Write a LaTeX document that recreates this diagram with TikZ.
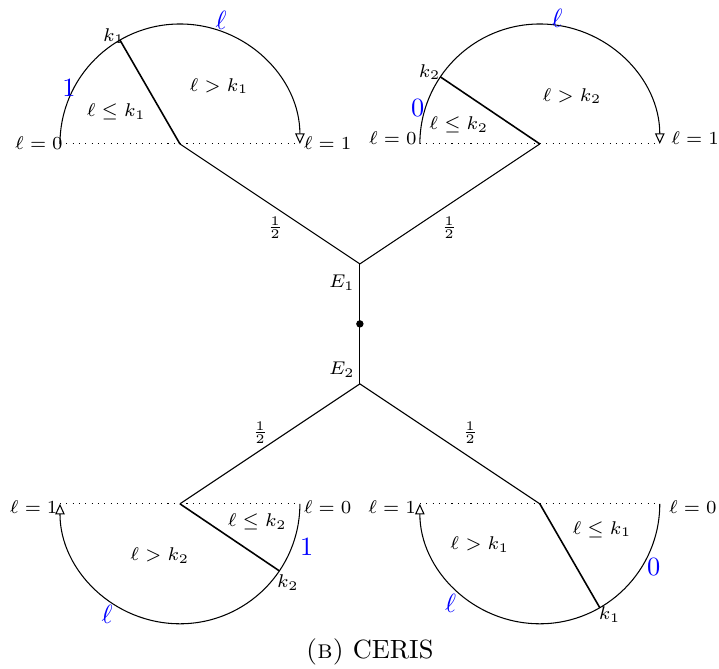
\documentclass[tikz,border=0pt]{standalone}
\usepackage{amsmath}
\usetikzlibrary{arrows.meta, positioning, calc}
\definecolor{valblue}{HTML}{0000FF}
\tikzset{
  edge/.style={thin},
  cut/.style={semithick},
  rim/.style={thin, -{Triangle[open, length=4pt, width=3.6pt]}},
  base/.style={dotted},
  lbl/.style={font=\scriptsize, inner sep=1pt},
  val/.style={font=\normalsize, text=valblue, inner sep=1pt},
  dot/.style={circle, fill=black, inner sep=0pt, minimum size=2.8pt},
}

\begin{document}
\begin{tikzpicture}
  \useasboundingbox (-4.8,-4.6) rectangle (4.79,4.32);

  % centres and junctions
  \coordinate (c1) at (-2.4,2.4);
  \coordinate (c2) at (2.4,2.4);
  \coordinate (c3) at (-2.4,-2.4);
  \coordinate (c4) at (2.4,-2.4);
  \coordinate (e1) at (0,0.8);
  \coordinate (e2) at (0,-0.8);

  % rim end points and cut points
  \coordinate (c1w) at ($(c1)+(180:1.6)$);
  \coordinate (c1e) at ($(c1)+(0:1.6)$);
  \coordinate (k1a) at ($(c1)+(120:1.6)$);
  \coordinate (c2w) at ($(c2)+(180:1.6)$);
  \coordinate (c2e) at ($(c2)+(0:1.6)$);
  \coordinate (k2a) at ($(c2)+(146:1.6)$);
  \coordinate (c3w) at ($(c3)+(180:1.6)$);
  \coordinate (c3e) at ($(c3)+(0:1.6)$);
  \coordinate (k2b) at ($(c3)+(-34:1.6)$);
  \coordinate (c4w) at ($(c4)+(180:1.6)$);
  \coordinate (c4e) at ($(c4)+(0:1.6)$);
  \coordinate (k1b) at ($(c4)+(-60:1.6)$);

  % Middle edge
  \draw[edge] (e1) -- (e2);
  \node[dot] (mid) at (0,0) {};
  \node[lbl] (E1) at (-0.24,0.55) {$E_1$};
  \node[lbl] (E2) at (-0.24,-0.61) {$E_2$};

  % Edges to the discs
  \draw[edge] (c1) -- (e1);
  \draw[edge] (e1) -- (c2);
  \draw[edge] (e2) -- (c3);
  \draw[edge] (e2) -- (c4);
  \node[lbl] (h1) at (-1.13,1.28) {$\frac{1}{2}$};
  \node[lbl] (h2) at (1.19,1.28) {$\frac{1}{2}$};
  \node[lbl] (h3) at (-1.33,-1.45) {$\frac{1}{2}$};
  \node[lbl] (h4) at (1.47,-1.45) {$\frac{1}{2}$};

  % Top-left disc
  \draw[base] (c1w) -- (c1e);
  \draw[rim] (c1w) arc[start angle=180, end angle=0, radius=1.6];
  \draw[cut] (c1) -- (k1a);
  \node[lbl] (zero1) at (-4.28,2.41) {$\ell=0$};
  \node[lbl] (one1) at (-0.43,2.41) {$\ell=1$};
  \node[lbl] (kk1) at (-3.28,3.84) {$k_1$};
  \node[lbl] (le1) at (-3.25,2.83) {$\ell\leq k_1$};
  \node[lbl] (gt1) at (-1.88,3.17) {$\ell>k_1$};
  \node[val] (v1) at (-3.88,3.15) {$1$};
  \node[val] (ell1) at (-1.85,4.05) {$\ell$};

  % Top-right disc
  \draw[base] (c2w) -- (c2e);
  \draw[rim] (c2w) arc[start angle=180, end angle=0, radius=1.6];
  \draw[cut] (c2) -- (k2a);
  \node[lbl] (zero2) at (0.44,2.48) {$\ell=0$};
  \node[lbl] (one2) at (4.47,2.48) {$\ell=1$};
  \node[lbl] (kk2) at (0.93,3.36) {$k_2$};
  \node[lbl] (le2) at (1.32,2.65) {$\ell\leq k_2$};
  \node[lbl] (gt2) at (2.83,3.04) {$\ell>k_2$};
  \node[val] (v2) at (0.77,2.88) {$0$};
  \node[val] (ell2) at (2.63,4.07) {$\ell$};

  % Bottom-left disc
  \draw[base] (c3w) -- (c3e);
  \draw[rim] (c3e) arc[start angle=0, end angle=-180, radius=1.6];
  \draw[cut] (c3) -- (k2b);
  \node[lbl] (one3) at (-4.35,-2.45) {$\ell=1$};
  \node[lbl] (zero3) at (-0.43,-2.45) {$\ell=0$};
  \node[lbl] (kk3) at (-0.96,-3.45) {$k_2$};
  \node[lbl] (le3) at (-1.37,-2.64) {$\ell\leq k_2$};
  \node[lbl] (gt3) at (-2.67,-3.09) {$\ell>k_2$};
  \node[val] (v3) at (-0.71,-2.97) {$1$};
  \node[val] (ell3) at (-3.37,-3.87) {$\ell$};

  % Bottom-right disc
  \draw[base] (c4w) -- (c4e);
  \draw[rim] (c4e) arc[start angle=0, end angle=-180, radius=1.6];
  \draw[cut] (c4) -- (k1b);
  \node[lbl] (one4) at (0.43,-2.45) {$\ell=1$};
  \node[lbl] (zero4) at (4.44,-2.45) {$\ell=0$};
  \node[lbl] (kk4) at (3.33,-3.88) {$k_1$};
  \node[lbl] (le4) at (3.23,-2.74) {$\ell\leq k_1$};
  \node[lbl] (gt4) at (1.6,-2.94) {$\ell>k_1$};
  \node[val] (v4) at (3.92,-3.24) {$0$};
  \node[val] (ell4) at (1.21,-3.73) {$\ell$};

  % Caption
  \node[inner sep=1pt] (cap) at (0.13,-4.38) {\textsc{(b)} CERIS};
\end{tikzpicture}
\end{document}
